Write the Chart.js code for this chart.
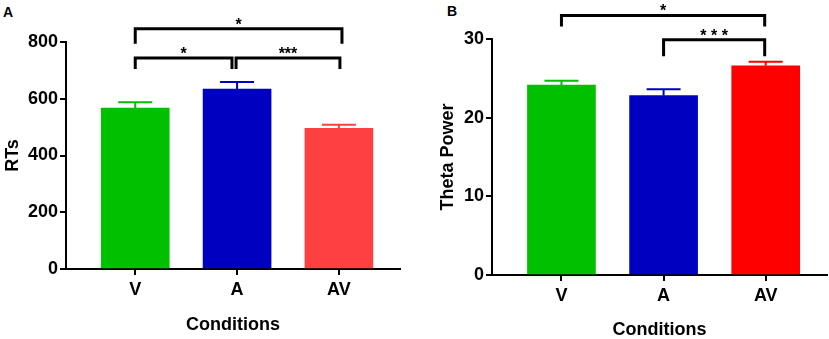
<!DOCTYPE html>
<html>
<head>
<meta charset="utf-8">
<script src="https://cdn.jsdelivr.net/npm/chart.js@4.4.1/dist/chart.umd.min.js"></script>
<style>
  html, body { margin: 0; padding: 0; background: #fff; }
  body { width: 829px; height: 339px; position: relative; overflow: hidden; font-family: "Liberation Sans", Arial, sans-serif; }
  .panel { position: absolute; top: 0; height: 339px; }
  .letter { position: absolute; font: bold 14px/14px "Liberation Sans", Arial, sans-serif; color: #000; }
</style>
</head>
<body>
<div class="letter" style="left:3px; top:5px;">A</div>
<div class="letter" style="left:447px; top:4px;">B</div>
<div class="panel" style="left:0; width:415px;"><canvas id="cA"></canvas></div>
<div class="panel" style="left:420px; width:409px;"><canvas id="cB"></canvas></div>
<script>
// ---- data ----
const categories = ["V", "A", "AV"];
const rtMeans = [567, 634, 496];
const rtErrors = [21, 25, 12];
const thetaMeans = [24.15, 22.8, 26.6];
const thetaErrors = [0.55, 0.8, 0.5];
const rtTicks = [0, 200, 400, 600, 800];
const thetaTicks = [0, 10, 20, 30];
// significance brackets: [fromIndex, toIndex, barLevel, legEnd, label]
const rtBrackets = [
  [0, 2.03, 847, 794, "*"],
  [0, 0.95, 744, 705, "*"],
  [0.99, 2.01, 744, 705, "***"]
];
const thetaBrackets = [
  [0, 1.99, 33.0, 31.6, "*"],
  [1, 1.99, 29.9, 27.8, "* * *"]
];
const colorsA = ["#00C000", "#0000C0", "#FF4040"];
const colorsB = ["#00C000", "#0000C0", "#FF0000"];

const FONT = "'Liberation Sans', Arial, sans-serif";

const errorBarPlugin = {
  id: "errbars",
  afterDatasetsDraw(chart, args, opts) {
    const { ctx } = chart;
    const y = chart.scales.y;
    const meta = chart.getDatasetMeta(0);
    ctx.save();
    ctx.lineWidth = 2;
    meta.data.forEach((bar, i) => {
      const v = opts.means[i], e = opts.errors[i];
      const top = y.getPixelForValue(v);
      const et = y.getPixelForValue(v + e);
      ctx.strokeStyle = opts.colors[i];
      ctx.beginPath();
      ctx.moveTo(bar.x, top);
      ctx.lineTo(bar.x, et);
      ctx.moveTo(bar.x - 17, et);
      ctx.lineTo(bar.x + 17, et);
      ctx.stroke();
    });
    ctx.restore();
  },
  afterDraw(chart, args, opts) {
    const { ctx } = chart;
    const { x, y } = chart.scales;
    ctx.save();
    ctx.strokeStyle = "#000";
    ctx.fillStyle = "#000";
    ctx.lineWidth = 3;
    ctx.lineJoin = "miter";
    ctx.font = "bold 16px " + FONT;
    ctx.textAlign = "center";
    ctx.textBaseline = "alphabetic";
    opts.brackets.forEach(b => {
      const x1 = x.getPixelForValue(b[0]);
      const x2 = x.getPixelForValue(b[1]);
      const ly = y.getPixelForValue(b[2]);
      const le = y.getPixelForValue(b[3]);
      ctx.beginPath();
      ctx.moveTo(x1, le);
      ctx.lineTo(x1, ly);
      ctx.lineTo(x2, ly);
      ctx.lineTo(x2, le);
      ctx.stroke();
      ctx.fillText(b[4], (x1 + x2) / 2, ly + 1);
    });
    ctx.restore();
  }
};

function makeChart(id, means, errors, colors, ticks, brackets, yTitle, cfg) {
  return new Chart(document.getElementById(id), {
    type: "bar",
    data: {
      datasets: [{
        data: means.map((v, i) => ({ x: i, y: v })),
        backgroundColor: colors,
        borderWidth: 0,
        barThickness: 68
      }]
    },
    options: {
      responsive: true,
      maintainAspectRatio: false,
      animation: false,
      events: [],
      layout: { padding: { top: cfg.top, right: cfg.right, left: 0, bottom: 0 } },
      plugins: {
        legend: { display: false },
        tooltip: { enabled: false },
        errbars: { means: means, errors: errors, colors: colors, brackets: brackets }
      },
      scales: {
        x: {
          type: "linear",
          offset: false,
          min: -0.68,
          max: 2.6,
          afterBuildTicks: s => { s.ticks = categories.map((c, i) => ({ value: i })); },
          afterFit: s => { s.height = cfg.xh; },
          ticks: {
            callback: v => categories[v],
            font: { family: FONT, size: 18, weight: "bold" },
            color: "#000",
            padding: 4,
            maxRotation: 0
          },
          grid: { display: true, offset: false, drawOnChartArea: false, drawTicks: true, tickLength: 6, lineWidth: 2, color: "#000" },
          border: { display: true, width: 2, color: "#000" },
          title: {
            display: true, text: "Conditions", color: "#000",
            font: { family: FONT, size: 18, weight: "bold", lineHeight: 1 },
            padding: { top: 0, bottom: cfg.xtp }
          }
        },
        y: {
          min: ticks[0],
          max: ticks[ticks.length - 1],
          afterBuildTicks: s => { s.ticks = ticks.map(v => ({ value: v })); },
          afterFit: s => { s.width = cfg.yw; },
          ticks: {
            font: { family: FONT, size: 18, weight: "bold" },
            color: "#000",
            padding: 2
          },
          grid: { display: true, drawOnChartArea: false, drawTicks: true, tickLength: 6, lineWidth: 2, color: "#000" },
          border: { display: true, width: 2, color: "#000" },
          title: {
            display: true, text: yTitle, color: "#000",
            font: { family: FONT, size: 18, weight: "bold", lineHeight: 1 },
            padding: { top: cfg.ytp, bottom: 0 }
          }
        }
      }
    },
    plugins: [errorBarPlugin]
  });
}

makeChart("cA", rtMeans, rtErrors, colorsA, rtTicks, rtBrackets, "RTs",
  { top: 42, right: 15, xh: 70, yw: 66, xtp: 5, ytp: 4 });
makeChart("cB", thetaMeans, thetaErrors, colorsB, thetaTicks, thetaBrackets, "Theta Power",
  { top: 39, right: 2, xh: 64, yw: 72, xtp: 0, ytp: 19 });
</script>
</body>
</html>
